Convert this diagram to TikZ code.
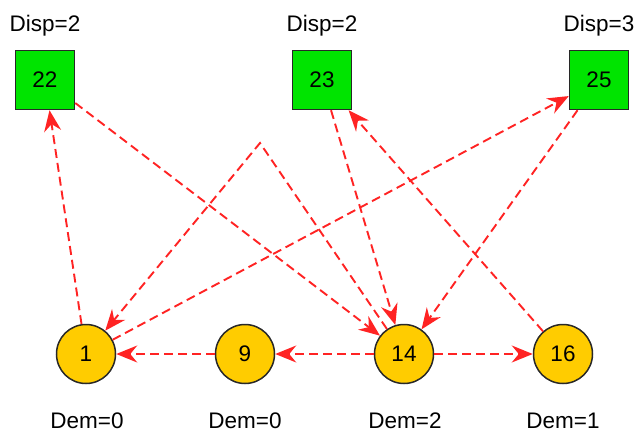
\documentclass[tikz,border=0pt]{standalone}
\usepackage{fontspec}
\setmainfont{Liberation Sans}
\usetikzlibrary{arrows.meta}
\definecolor{grn}{RGB}{0,228,0}
\definecolor{gold}{RGB}{255,204,0}
\definecolor{edred}{RGB}{255,35,35}
\definecolor{bord}{RGB}{40,40,40}
\newcommand{\dfont}{\fontsize{22.5pt}{26pt}\selectfont}
\begin{document}
\begin{tikzpicture}[x=1pt,y=-1pt,
  sq/.style={draw=bord, line width=1.5pt, fill=grn, minimum size=59pt, inner sep=0pt, font=\dfont},
  dm/.style={circle, draw=bord, line width=1.5pt, fill=gold, minimum size=59pt, inner sep=0pt, font=\dfont},
  lbl/.style={anchor=base, font=\dfont, inner sep=0pt},
  ed/.style={draw=edred, line width=1.9pt, dash pattern=on 9pt off 5pt, -{Stealth[length=21pt,width=17pt,inset=7pt]}}
  ]
\useasboundingbox (0,0) rectangle (637,434);
\node[sq] (n22) at (45,80) {22};
\node[sq] (n23) at (322,80) {23};
\node[sq] (n25) at (599,80) {25};
\node[dm] (n1) at (86,354) {1};
\node[dm] (n9) at (245,354) {9};
\node[dm] (n14) at (404,354) {14};
\node[dm] (n16) at (563,354) {16};
\node[lbl] (d22) at (45,31) {Disp=2};
\node[lbl] (d23) at (322,31) {Disp=2};
\node[lbl] (d25) at (599,31) {Disp=3};
\node[lbl] (m1) at (87,428) {Dem=0};
\node[lbl] (m9) at (245,428) {Dem=0};
\node[lbl] (m14) at (405,428) {Dem=2};
\node[lbl] (m16) at (563,428) {Dem=1};
\coordinate (bend) at (260,143);
\draw[ed] (n1) -- (n22);
\draw[ed] (n22) -- (n14);
\draw[ed] (n14) -- (bend) -- (n1);
\draw[ed] (n1) -- (n25);
\draw[ed] (n23) -- (n14);
\draw[ed] (n16) -- (n23);
\draw[ed] (n25) -- (n14);
\draw[ed] (n14) -- (n9);
\draw[ed] (n9) -- (n1);
\draw[ed] (n14) -- (n16);
\end{tikzpicture}
\end{document}
